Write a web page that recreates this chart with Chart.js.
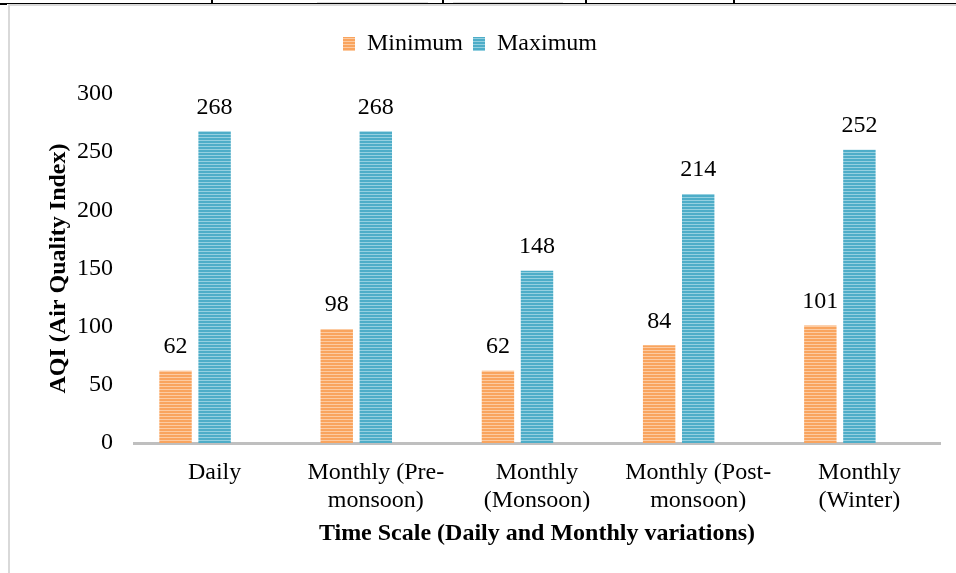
<!DOCTYPE html>
<html>
<head>
<meta charset="utf-8">
<script src="https://cdn.jsdelivr.net/npm/chart.js@4.4.1/dist/chart.umd.min.js"></script>
<style>
  html, body { margin: 0; padding: 0; background: #fff; }
  #wrap { position: relative; width: 956px; height: 573px; overflow: hidden; }
  #c { position: absolute; left: 0; top: 0; }
  .deco { position: absolute; }
</style>
</head>
<body>
<div id="wrap">
  <canvas id="c" width="956" height="573"></canvas>
  <div class="deco" style="left:317px;top:2px;width:111px;height:1px;background:#dcdcdc"></div>
  <div class="deco" style="left:453px;top:2px;width:110px;height:1px;background:#dcdcdc"></div>
  <div class="deco" style="left:0;top:3px;width:956px;height:1px;background:#000"></div>
  <div class="deco" style="left:8px;top:4px;width:948px;height:2px;background:#d9d9d9"></div>
  <div class="deco" style="left:211px;top:0;width:2px;height:4px;background:#000"></div>
  <div class="deco" style="left:442px;top:0;width:2px;height:4px;background:#000"></div>
  <div class="deco" style="left:585px;top:0;width:2px;height:4px;background:#000"></div>
  <div class="deco" style="left:733px;top:0;width:2px;height:4px;background:#000"></div>
  <div class="deco" style="left:0;top:3px;width:7px;height:2px;background:#000"></div>
  <div class="deco" style="left:8px;top:4px;width:2px;height:569px;background:#d9d9d9"></div>
</div>
<script>
const categories = [
  "Daily",
  ["Monthly (Pre-", "monsoon)"],
  ["Monthly", "(Monsoon)"],
  ["Monthly (Post-", "monsoon)"],
  ["Monthly", "(Winter)"]
];
const minimumValues = [62, 98, 62, 84, 101];
const maximumValues = [268, 268, 148, 214, 252];
const emptySlot = [null, null, null, null, null];
const yTicks = [0, 50, 100, 150, 200, 250, 300];

function stripes(base, light) {
  const p = document.createElement('canvas');
  p.width = 4; p.height = 3;
  const g = p.getContext('2d');
  g.fillStyle = base; g.fillRect(0, 0, 4, 3);
  g.fillStyle = light; g.fillRect(0, 2, 4, 1);
  return document.getElementById('c').getContext('2d').createPattern(p, 'repeat');
}
const orangeFill = stripes('#F9A45E', '#FCCBA2');
const blueFill = stripes('#4EADC8', '#95D0E0');

const FONT = "'Liberation Serif', 'Times New Roman', serif";
const FS = 24;

const valueLabels = {
  id: 'valueLabels',
  afterDatasetsDraw(chart) {
    const ctx = chart.ctx;
    ctx.save();
    ctx.font = FS + "px " + FONT;
    ctx.fillStyle = '#000';
    ctx.textAlign = 'center';
    ctx.textBaseline = 'middle';
    [0, 1].forEach(di => {
      const meta = chart.getDatasetMeta(di);
      meta.data.forEach((el, i) => {
        const v = chart.data.datasets[di].data[i];
        if (v == null) return;
        ctx.fillText(String(v), el.x, el.y - 24);
      });
    });
    ctx.restore();
  }
};

const legendSpace = {
  id: 'legendSpace',
  beforeInit(chart) {
    const orig = chart.legend.fit;
    chart.legend.fit = function () {
      orig.call(this);
      this.height += 28;
    };
  }
};

new Chart(document.getElementById('c'), {
  type: 'bar',
  data: {
    labels: categories,
    datasets: [
      { label: 'Minimum', data: minimumValues, backgroundColor: orangeFill, borderWidth: 0 },
      { label: 'Maximum', data: maximumValues, backgroundColor: blueFill, borderWidth: 0 },
      { label: '', data: emptySlot, backgroundColor: 'rgba(0,0,0,0)', borderWidth: 0 }
    ]
  },
  plugins: [valueLabels, legendSpace],
  options: {
    responsive: false,
    animation: false,
    devicePixelRatio: 1,
    categoryPercentage: 0.727,
    barPercentage: 0.83,
    layout: { padding: { top: 22, right: 16, left: 0, bottom: 0 } },
    plugins: {
      tooltip: { enabled: false },
      legend: {
        position: 'top',
        align: 'center',
        labels: {
          font: { family: FONT, size: FS },
          color: '#000',
          boxWidth: 12,
          boxHeight: 14,
          padding: 10,
          filter: (item) => item.datasetIndex < 2
        }
      }
    },
    scales: {
      x: {
        grid: { display: false, drawTicks: false },
        border: { display: true, color: '#BFBFBF', width: 3 },
        ticks: {
          font: { family: FONT, size: FS },
          color: '#000',
          padding: 15,
          maxRotation: 0,
          autoSkip: false
        },
        title: {
          display: true,
          text: 'Time Scale (Daily and Monthly variations)',
          font: { family: FONT, size: FS, weight: 'bold' },
          color: '#000',
          padding: { top: 0, bottom: 25 }
        },
        afterFit(scale) { scale.height = 130; }
      },
      y: {
        min: 0,
        max: 300,
        afterBuildTicks(scale) { scale.ticks = yTicks.map(v => ({ value: v })); },
        grid: { display: false, drawTicks: false },
        border: { display: false },
        ticks: {
          font: { family: FONT, size: FS },
          color: '#000',
          padding: 21
        },
        title: {
          display: true,
          text: 'AQI (Air Quality Index)',
          font: { family: FONT, size: FS, weight: 'bold' },
          color: '#000',
          padding: { top: 44, bottom: 0 }
        },
        afterFit(scale) { scale.width = 134; }
      }
    }
  }
});
</script>
</body>
</html>
